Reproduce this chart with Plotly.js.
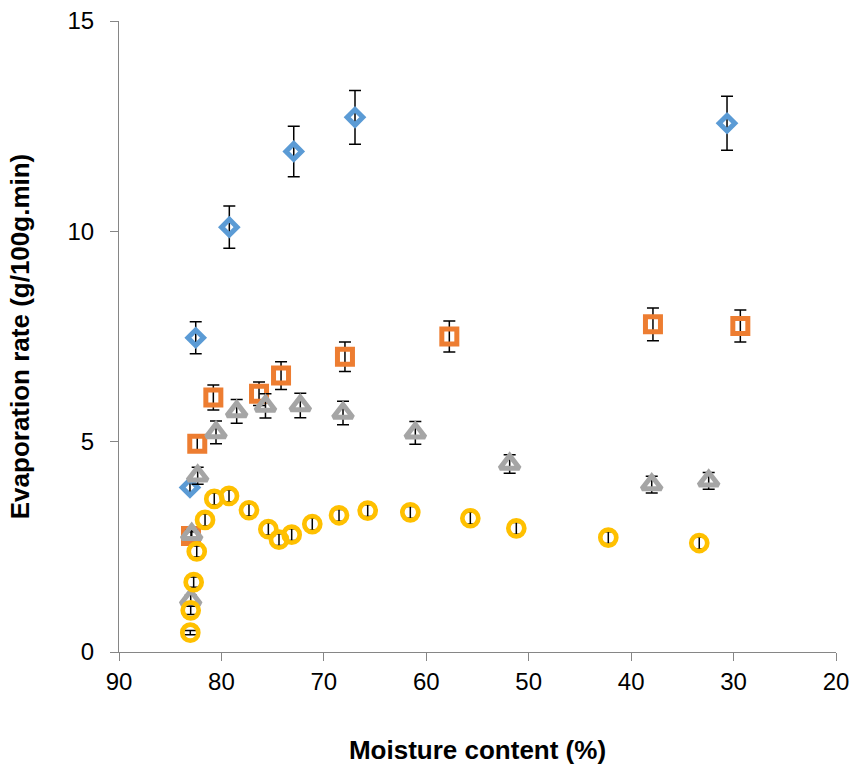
<!DOCTYPE html>
<html>
<head>
<meta charset="utf-8">
<script src="https://cdn.plot.ly/plotly-3.0.1.min.js"></script>
<style>html,body{margin:0;padding:0;background:#fff;}#chart{width:855px;height:771px;}</style>
</head>
<body>
<div id="chart"></div>
<script>
// Series 1 (blue diamonds)
const blueX = [83.07, 82.51, 79.23, 72.94, 66.96, 30.64];
const blueY = [3.91, 7.47, 10.10, 11.90, 12.71, 12.57];
const blueErr = [0.10, 0.38, 0.50, 0.60, 0.64, 0.64];

// Series 2 (orange squares)
const orangeX = [82.97, 82.36, 80.79, 76.33, 74.18, 67.94, 57.75, 37.87, 29.34];
const orangeY = [2.76, 4.95, 6.05, 6.14, 6.57, 7.02, 7.50, 7.79, 7.75];
const orangeErr = [0.10, 0.20, 0.30, 0.28, 0.33, 0.35, 0.37, 0.39, 0.38];

// Series 3 (grey triangles)
const greyX = [83.0, 82.9, 82.32, 80.53, 78.51, 75.70, 72.30, 68.13, 61.07, 51.86, 37.99, 32.43];
const greyY = [1.25, 2.80, 4.19, 5.22, 5.72, 5.85, 5.86, 5.68, 5.21, 4.47, 3.98, 4.07];
const greyErr = [0.10, 0.10, 0.20, 0.27, 0.28, 0.29, 0.29, 0.28, 0.27, 0.22, 0.20, 0.20];

// Series 4 (yellow circles)
const yellowX = [83.04, 83.0, 82.71, 82.41, 81.60, 80.70, 79.26, 77.31, 75.42, 74.38, 73.14, 71.13, 68.52, 65.72, 61.56, 55.70, 51.21, 42.23, 33.35];
const yellowY = [0.46, 0.99, 1.66, 2.39, 3.14, 3.64, 3.71, 3.37, 2.92, 2.67, 2.79, 3.04, 3.25, 3.36, 3.32, 3.18, 2.94, 2.72, 2.59];
const yellowErr = [0.05, 0.10, 0.12, 0.13, 0.14, 0.14, 0.14, 0.14, 0.14, 0.14, 0.14, 0.14, 0.14, 0.14, 0.14, 0.14, 0.14, 0.14, 0.14];

// Axis ticks
const xTicks = [90, 80, 70, 60, 50, 40, 30, 20];
const yTicks = [0, 5, 10, 15];

function mk(x, y, err, symbol, color, size, lw) {
  return {
    type: 'scatter', mode: 'markers', x: x, y: y,
    marker: {symbol: symbol, size: size, color: color, line: {color: color, width: lw}},
    error_y: {type: 'data', array: err, visible: true, color: '#000000', thickness: 1.5, width: 6},
    showlegend: false, hoverinfo: 'x+y'
  };
}

const data = [
  mk(blueX, blueY, blueErr, 'diamond-open', '#5B9BD5', 12, 5),
  mk(orangeX, orangeY, orangeErr, 'square-open', '#ED7D31', 15, 5),
  mk(greyX, greyY, greyErr, 'triangle-up-open', '#A5A5A5', 17, 5),
  mk(yellowX, yellowY, yellowErr, 'circle-open', '#FFC000', 16, 4.7)
];

const font = {family: 'Liberation Sans, Arial, sans-serif', color: '#000000'};

const layout = {
  width: 855, height: 771,
  margin: {l: 119, r: 19, t: 21, b: 119},
  paper_bgcolor: '#ffffff', plot_bgcolor: '#ffffff',
  showlegend: false,
  font: font,
  xaxis: {
    range: [90, 20], tickvals: xTicks, ticktext: xTicks.map(String),
    showgrid: false, zeroline: false, showline: true, linecolor: '#868686', linewidth: 1,
    ticks: 'outside', ticklen: 8, tickcolor: '#868686', tickwidth: 1,
    tickfont: {family: font.family, size: 24, color: '#000'},
    title: {text: '<b>Moisture content (%)</b>', font: {family: font.family, size: 26, color: '#000'}, standoff: 47}
  },
  yaxis: {
    range: [0, 15], tickvals: yTicks, ticktext: yTicks.map(String),
    showgrid: false, zeroline: false, showline: true, linecolor: '#868686', linewidth: 1,
    ticks: 'outside', ticklen: 8, tickcolor: '#868686', tickwidth: 1,
    ticklabelstandoff: 11,
    tickfont: {family: font.family, size: 24, color: '#000'},
    title: {text: '<b>Evaporation rate (g/100g.min)</b>', font: {family: font.family, size: 26, color: '#000'}, standoff: 30}
  }
};

Plotly.newPlot('chart', data, layout, {displayModeBar: false, staticPlot: true});
</script>
</body>
</html>
